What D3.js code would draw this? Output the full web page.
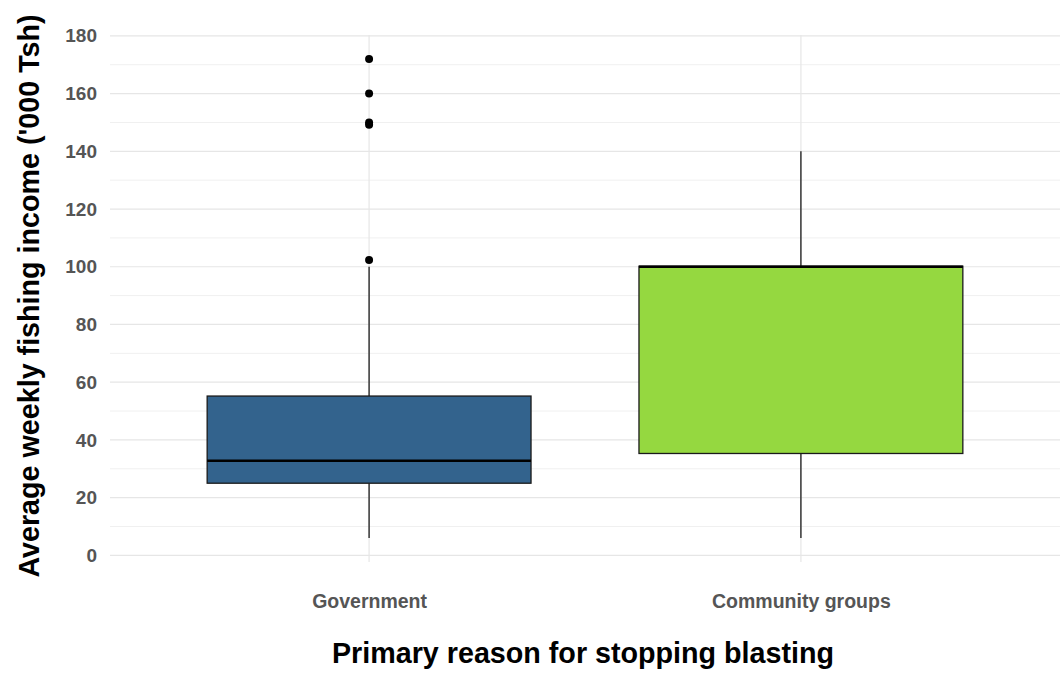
<!DOCTYPE html>
<html>
<head>
<meta charset="utf-8">
<script src="https://cdn.jsdelivr.net/npm/d3@7"></script>
<style>
  body { margin: 0; background: #fff; }
  text { font-family: "Liberation Sans", Arial, sans-serif; }
</style>
</head>
<body>
<div id="chart"></div>
<script>
// box summaries ('000 Tsh)
const categories = ['Government', 'Community groups'];
const lowWhisker = [6, 6];
const q1 = [25, 35.3];
const median = [32.8, 100];
const q3 = [55.2, 100.2];
const highWhisker = [100, 140];
const outliers = [[102.3, 149.2, 150, 160, 172], []];
const colours = ['#33638D', '#95D840'];
const yTicks = [0, 20, 40, 60, 80, 100, 120, 140, 160, 180];
const yMinor = [10, 30, 50, 70, 90, 110, 130, 150, 170];

const [width, height] = [1062, 675];
const margin = { top: 35, right: 2, bottom: 113, left: 110 };

const svg = d3.select('#chart')
    .append('svg')
    .attr('width', width)
    .attr('height', height);

// discrete x with ggplot style 0.6 expansion
const x = d3.scalePoint()
    .domain(categories)
    .range([margin.left, width - margin.right])
    .padding(0.6);
const step = x.step();
const boxW = step * 0.75;

const y = d3.scaleLinear()
    .domain([-2.3, 180.3])
    .range([height - margin.bottom, margin.top]);

// grid
const grid = svg.append('g');
grid.selectAll('line.minor')
    .data(yMinor)
    .join('line')
    .attr('x1', margin.left).attr('x2', width - margin.right)
    .attr('y1', d => y(d)).attr('y2', d => y(d))
    .style('stroke', '#f0f0f0')
    .style('stroke-width', 1);
grid.selectAll('line.major')
    .data(yTicks)
    .join('line')
    .attr('x1', margin.left).attr('x2', width - margin.right)
    .attr('y1', d => y(d)).attr('y2', d => y(d))
    .style('stroke', '#e6e6e6')
    .style('stroke-width', 1.2);
grid.selectAll('line.vert')
    .data(categories)
    .join('line')
    .attr('x1', d => x(d)).attr('x2', d => x(d))
    .attr('y1', margin.top).attr('y2', height - margin.bottom)
    .style('stroke', '#e6e6e6')
    .style('stroke-width', 1.2);

// y axis
const yAxis = d3.axisLeft(y).tickValues(yTicks).tickSize(0).tickPadding(13);
const gy = svg.append('g')
    .attr('transform', `translate(${margin.left},0)`)
    .call(yAxis);
gy.select('.domain').remove();
gy.selectAll('text')
    .style('font-size', '19px')
    .style('font-weight', 'bold')
    .attr('fill', '#555');

// x axis
const xAxis = d3.axisBottom(x).tickSize(0).tickPadding(32);
const gx = svg.append('g')
    .attr('transform', `translate(0,${height - margin.bottom})`)
    .call(xAxis);
gx.select('.domain').remove();
gx.selectAll('text')
    .style('font-size', '19.5px')
    .style('font-weight', 'bold')
    .attr('fill', '#555');

// boxes
const boxes = svg.append('g')
    .selectAll('g')
    .data(categories)
    .join('g');

boxes.append('line')
    .attr('x1', d => x(d)).attr('x2', d => x(d))
    .attr('y1', (d, i) => y(highWhisker[i]))
    .attr('y2', (d, i) => y(q3[i]))
    .style('stroke', '#1a1a1a').style('stroke-width', 1.3);
boxes.append('line')
    .attr('x1', d => x(d)).attr('x2', d => x(d))
    .attr('y1', (d, i) => y(q1[i]))
    .attr('y2', (d, i) => y(lowWhisker[i]))
    .style('stroke', '#1a1a1a').style('stroke-width', 1.3);
boxes.append('rect')
    .attr('x', d => x(d) - boxW / 2)
    .attr('width', boxW)
    .attr('y', (d, i) => y(q3[i]))
    .attr('height', (d, i) => y(q1[i]) - y(q3[i]))
    .attr('fill', (d, i) => colours[i])
    .style('stroke', '#1a1a1a')
    .style('stroke-width', 1.3);
boxes.append('line')
    .attr('x1', d => x(d) - boxW / 2).attr('x2', d => x(d) + boxW / 2)
    .attr('y1', (d, i) => y(median[i]))
    .attr('y2', (d, i) => y(median[i]))
    .style('stroke', '#000').style('stroke-width', 2.6);

boxes.selectAll('circle')
    .data((d, i) => outliers[i].map(v => [d, v]))
    .join('circle')
    .attr('cx', d => x(d[0]))
    .attr('cy', d => y(d[1]))
    .attr('r', 4)
    .attr('fill', '#000');

// axis titles
svg.append('text')
    .attr('transform', 'translate(39,296) rotate(-90)')
    .attr('text-anchor', 'middle')
    .style('font-size', '28.7px')
    .style('font-weight', 'bold')
    .attr('fill', '#000')
    .text("Average weekly fishing income ('000 Tsh)");

svg.append('text')
    .attr('x', 583)
    .attr('y', 663)
    .attr('text-anchor', 'middle')
    .style('font-size', '28.7px')
    .style('font-weight', 'bold')
    .attr('fill', '#000')
    .text('Primary reason for stopping blasting');
</script>
</body>
</html>
